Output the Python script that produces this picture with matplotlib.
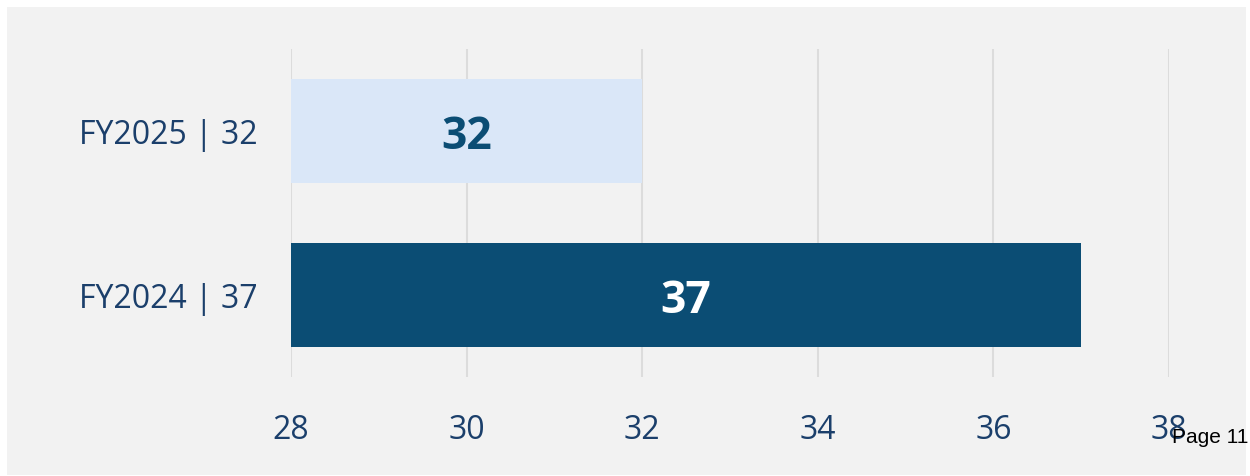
import matplotlib
matplotlib.use("Agg")
import matplotlib.pyplot as plt
from matplotlib.patches import Rectangle

categories = ["FY2024", "FY2025"]
values = [37, 32]
bar_colors = ["#0B4D74", "#DAE7F8"]
label_colors = ["#FFFFFF", "#0B4D74"]
xticks = [28, 30, 32, 34, 36, 38]

plt.rcParams['font.family'] = ['Open Sans', 'DejaVu Sans']
navy = "#1B3F6B"

fig = plt.figure(figsize=(12.5, 4.77), dpi=100)
fig.patch.set_facecolor("white")
bg = Rectangle((7/1250, 1 - 476/477), (1246-7)/1250, (476-8)/477,
               transform=fig.transFigure, facecolor="#F2F2F2",
               edgecolor="none", zorder=-10)
fig.add_artist(bg)

ax = fig.add_axes([291/1250, 1 - 378/477, (1169-291)/1250, (378-50)/477])
ax.set_zorder(1)
ax.set_facecolor("none")
ypos = list(range(len(categories)))
ax.barh(ypos, [v - 28 for v in values], left=28, height=0.64, color=bar_colors, zorder=2)
for y, v, c in zip(ypos, values, label_colors):
    ax.annotate(str(v), (28 + (v - 28) / 2, y), xytext=(0, -4), textcoords="offset points",
                ha="center", va="center", fontsize=32, fontweight="bold", color=c, zorder=3)

ax.set_xlim(28, 38)
ax.set_ylim(-0.5, 1.5)
ax.set_xticks(xticks)
ax.set_xticklabels([str(t) for t in xticks], fontsize=23, color=navy)
ax.set_yticks(ypos)
ax.set_yticklabels([f"{c} | {v}" for c, v in zip(categories, values)], fontsize=23, color=navy)
ax.tick_params(axis="both", length=0)
ax.tick_params(axis="x", pad=26)
ax.tick_params(axis="y", pad=24)
ax.grid(axis="x", color="#DCDCDC", linewidth=1.5, zorder=1)
ax.set_axisbelow(True)
for s in ax.spines.values():
    s.set_visible(False)

t = fig.text(1172/1250, 1 - 443/477, "Page 11", fontsize=15, color="black",
             family=["Liberation Sans", "DejaVu Sans"], ha="left", va="baseline")
t.set_zorder(5)

fig.savefig("out.png", dpi=100, facecolor="white")
